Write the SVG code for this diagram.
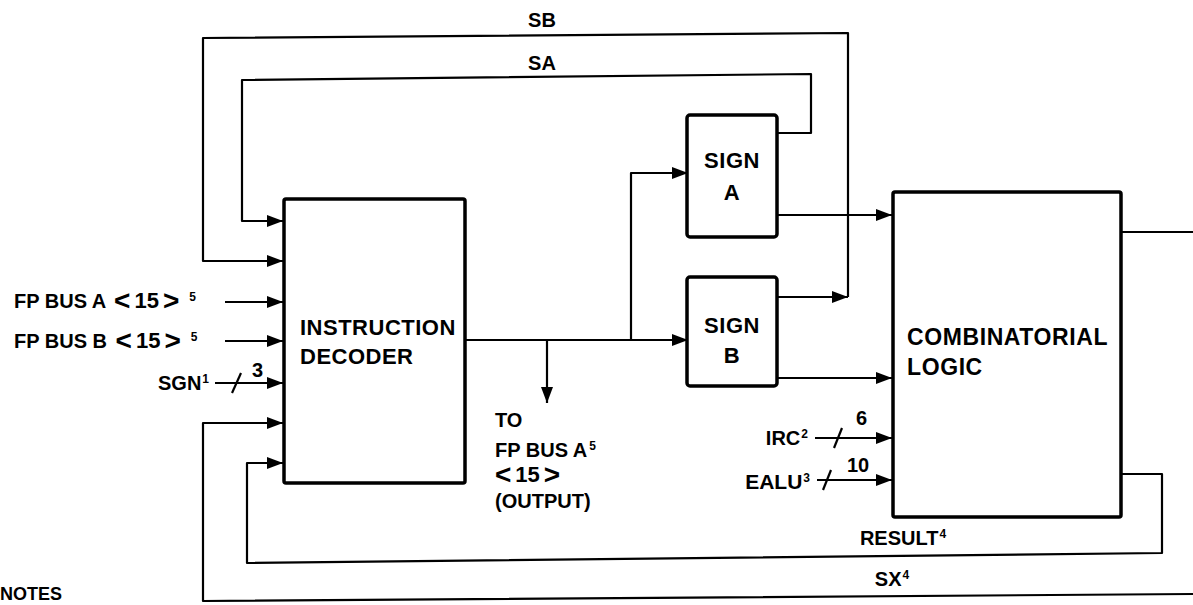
<svg xmlns="http://www.w3.org/2000/svg" width="1193" height="605" viewBox="0 0 1193 605">
<style>
.box{fill:#fff;stroke:#000;stroke-width:3.5;stroke-linejoin:round}
.ln{fill:none;stroke:#000;stroke-width:2.2;stroke-linejoin:round}
.arr{marker-end:url(#ah)}
text{font-family:"Liberation Sans",Arial,sans-serif;font-weight:bold;font-size:20px;fill:#000}
.sup{font-size:12px}
.big{font-size:22px;letter-spacing:0.5px}
.lg{font-size:23px;letter-spacing:0.6px}
.ch{font-size:28px}
.dg{font-size:22px}
</style>
<defs>
<marker id="ah" markerUnits="userSpaceOnUse" markerWidth="16" markerHeight="12" refX="16" refY="6" orient="auto">
<path d="M0,0 L16,6 L0,12 z" fill="#000"/>
</marker>
</defs>
<g id="connectors">
<path class="ln arr" d="M777,297 L848,297"/>
<path class="ln arr" d="M848,297 L848,33 L203,38 L203,261 L283,261"/>
<path class="ln arr" d="M777,133 L811,133 L811,74 L242,80 L242,221 L283,221"/>
<path class="ln arr" d="M465,340 L688,340"/>
<path class="ln arr" d="M631,340 L631,173 L688,173"/>
<path class="ln arr" d="M547,340 L547,403"/>
<path class="ln arr" d="M777,215 L892,215"/>
<path class="ln arr" d="M777,378 L892,378"/>
<path class="ln" d="M1121,232 L1193,232"/>
<path class="ln arr" d="M1121,474 L1162,474 L1162,553 L247,563 L247,463 L283,463"/>
<path class="ln arr" d="M1193,594 L203,601 L203,423 L283,423"/>
<path class="ln arr" d="M225,302 L283,302"/>
<path class="ln arr" d="M225,341 L283,341"/>
<path class="ln arr" d="M215,383 L283,383"/>
<path class="ln" d="M232,393 L241,373"/>
<path class="ln arr" d="M815,438 L892,438"/>
<path class="ln" d="M834,448 L842,428"/>
<path class="ln arr" d="M817,480 L892,480"/>
<path class="ln" d="M823,490 L831,470"/>
</g>
<g id="labels">
<text x="542" y="27" text-anchor="middle">SB</text>
<text x="542" y="70" text-anchor="middle">SA</text>
<text x="14" y="308">FP BUS A <tspan class="ch" dx="3" dy="2">&lt;</tspan><tspan class="dg" dx="4" dy="-2">15</tspan><tspan class="ch" dx="4" dy="2">&gt;</tspan><tspan class="sup" dx="10" dy="-9">5</tspan></text>
<text x="14" y="348">FP BUS B <tspan class="ch" dx="3" dy="2">&lt;</tspan><tspan class="dg" dx="4" dy="-2">15</tspan><tspan class="ch" dx="4" dy="2">&gt;</tspan><tspan class="sup" dx="10" dy="-9">5</tspan></text>
<text x="158" y="390">SGN<tspan class="sup" dx="1" dy="-7">1</tspan></text>
<text x="252" y="377">3</text>
<text x="495" y="427">TO</text>
<text x="495" y="457">FP BUS A<tspan class="sup" dx="2" dy="-7">5</tspan></text>
<text x="495" y="482"><tspan class="ch" dy="2">&lt;</tspan><tspan class="dg" dx="4" dy="-2">15</tspan><tspan class="ch" dx="4" dy="2">&gt;</tspan></text>
<text x="495" y="508">(OUTPUT)</text>
<text x="808" y="445" text-anchor="end">IRC<tspan class="sup" dx="1" dy="-7">2</tspan></text>
<text x="856" y="425">6</text>
<text x="810" y="489" text-anchor="end" style="font-size:21px">EALU<tspan class="sup" dx="1" dy="-7">3</tspan></text>
<text x="847" y="472">10</text>
<text x="903" y="545" text-anchor="middle">RESULT<tspan class="sup" dx="1" dy="-7">4</tspan></text>
<text x="892" y="586" text-anchor="middle">SX<tspan class="sup" dx="1" dy="-7">4</tspan></text>
<text x="0" y="600" style="font-size:18px">NOTES</text>
</g>
<g id="decoder">
<rect class="box" x="284" y="199" width="181" height="284" rx="2"/>
<text x="300" y="335" class="big">INSTRUCTION</text>
<text x="300" y="364" class="big">DECODER</text>
</g>
<g id="signA">
<rect class="box" x="687" y="115" width="90" height="122" rx="3"/>
<text x="732" y="168" text-anchor="middle" class="big">SIGN</text>
<text x="732" y="200" text-anchor="middle" class="big">A</text>
</g>
<g id="signB">
<rect class="box" x="687" y="277" width="90" height="109" rx="3"/>
<text x="732" y="333" text-anchor="middle" class="big">SIGN</text>
<text x="732" y="363" text-anchor="middle" class="big">B</text>
</g>
<g id="comb">
<rect class="box" x="893" y="192" width="228" height="325" rx="2"/>
<text x="907" y="345" class="lg">COMBINATORIAL</text>
<text x="907" y="375" class="lg">LOGIC</text>
</g>
</svg>
